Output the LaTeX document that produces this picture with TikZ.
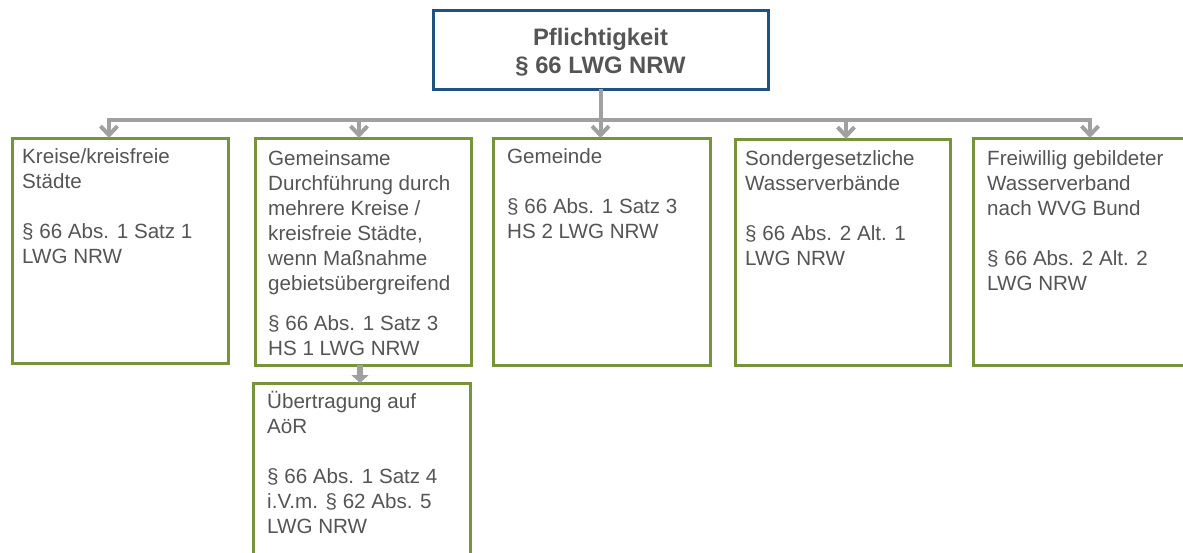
\documentclass[tikz,border=0pt]{standalone}
\usepackage{fontspec}
\setmainfont{Liberation Sans}
\usetikzlibrary{arrows.meta}
\definecolor{txt}{HTML}{555555}
\definecolor{grn}{HTML}{77933C}
\definecolor{blu}{HTML}{1F5283}
\definecolor{con}{HTML}{A0A0A0}
\tikzset{
  gbox/.style={draw=grn, line width=3pt, rectangle, outer sep=0pt, inner sep=0pt, anchor=north west, fill=white},
  bbox/.style={draw=blu, line width=3pt, rectangle, outer sep=0pt, inner sep=0pt, anchor=north west, fill=white},
  boxtext/.style={anchor=north west, inner sep=0pt, align=left, text=txt, font=\fontsize{20.6}{25}\selectfont},
  titletext/.style={inner sep=0pt, align=center, text=txt, font=\fontsize{23.8}{28}\selectfont\bfseries},
  conn/.style={draw=con, line width=4pt, line join=miter},
  barb/.style={-{Straight Barb[length=9pt,width=17pt]}},
  thickarrow/.style={draw=con, line width=6pt, -{Triangle[length=8pt,width=17pt]}}
}
\begin{document}
\begin{tikzpicture}[x=1pt,y=-1pt]
\useasboundingbox (0,0) rectangle (1183,552);
% boxes
\node[bbox, minimum width=335pt, minimum height=79pt] (top) at (433,10) {};
\node[gbox, minimum width=216pt, minimum height=225pt] (b1) at (12,138) {};
\node[gbox, minimum width=216pt, minimum height=227pt] (b2) at (255,138) {};
\node[gbox, minimum width=217pt, minimum height=227pt] (b3) at (493,138) {};
\node[gbox, minimum width=215pt, minimum height=226pt] (b4) at (735,139) {};
\node[gbox, minimum width=216pt, minimum height=227pt] (b5) at (973,138) {};
\node[gbox, minimum width=217pt, minimum height=190pt] (b6) at (253,383) {};
% texts
\node[titletext] (tt) at (600.5,52) {Pflichtigkeit\\§ 66 LWG NRW};
\node[boxtext] (t1) at (22,145.5) {\strut Kreise/kreisfreie\\Städte\\[25pt]§ 66 Abs. 1 Satz 1\\LWG NRW};
\node[boxtext] (t2) at (268,147.5) {\strut Gemeinsame\\Durchführung durch\\mehrere Kreise /\\kreisfreie Städte,\\wenn Maßnahme\\gebietsübergreifend\\[15pt]§ 66 Abs. 1 Satz 3\\HS 1 LWG NRW};
\node[boxtext] (t3) at (507,145.5) {\strut Gemeinde\\[25pt]§ 66 Abs. 1 Satz 3\\HS 2 LWG NRW};
\node[boxtext] (t4) at (745,147.5) {\strut Sondergesetzliche\\Wasserverbände\\[25pt]§ 66 Abs. 2 Alt. 1\\LWG NRW};
\node[boxtext] (t5) at (987,147.5) {\strut Freiwillig gebildeter\\Wasserverband\\nach WVG Bund\\[25pt]§ 66 Abs. 2 Alt. 2\\LWG NRW};
\node[boxtext] (t6) at (267,390.5) {\strut Übertragung auf\\AöR\\[25pt]§ 66 Abs. 1 Satz 4\\i.V.m. § 62 Abs. 5\\LWG NRW};
% connectors
\coordinate (a1) at (109,120);
\coordinate (a2) at (359,120);
\coordinate (a3) at (600.5,120);
\coordinate (a4) at (846,120);
\coordinate (a5) at (1090,120);
\draw[conn] (top.south) -- (a3);
\draw[conn, {Straight Barb[length=9pt,width=17pt]}-{Straight Barb[length=9pt,width=17pt]}] (a1 |- b1.north) -- (a1) -- (a5) -- (a5 |- b5.north);
\draw[conn, barb] (a2) -- (a2 |- b2.north);
\draw[conn, barb] (a3) -- (a3 |- b3.north);
\draw[conn, barb] (a4) -- (a4 |- b4.north);
\coordinate (m2) at (360,365);
\draw[thickarrow] (m2) -- (m2 |- b6.north);
\end{tikzpicture}
\end{document}
